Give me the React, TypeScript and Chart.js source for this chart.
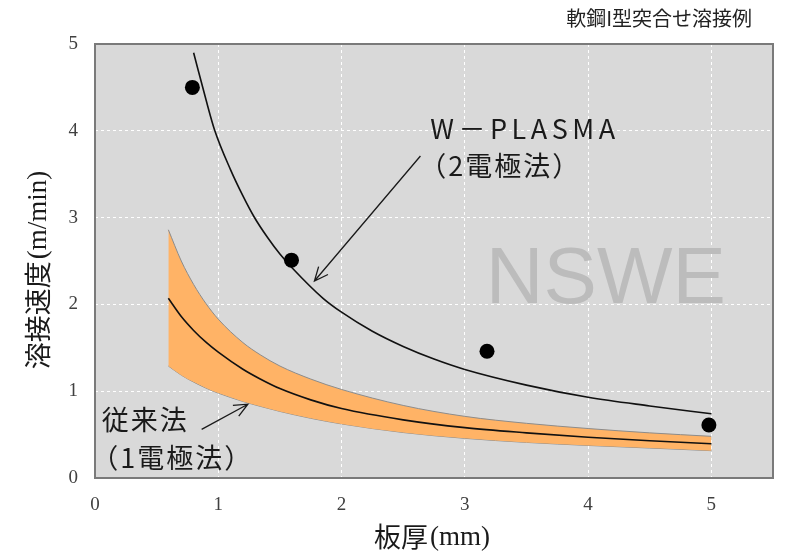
import React, { useEffect, useRef } from 'react';
import { Chart, registerables } from 'chart.js';

Chart.register(...registerables);

// ---- text ----
const titleText = '軟鋼I型突合せ溶接例';
const xTitleMain = '板厚';
const xTitleUnit = '(mm)';
const yTitleMain = '溶接速度';
const yTitleUnit = '(m/min)';
const watermark = 'NSWE';
const wLabel1 = 'W－PLASMA';
const wLabel2 = '（2電極法）';
const cLabel1 = '従来法';
const cLabel2 = '（1電極法）';

// ---- ticks ----
const xTicks = [0, 1, 2, 3, 4, 5];
const yTicks = [0, 1, 2, 3, 4, 5];

// ---- measured points (W-PLASMA) ----
const dotX = [0.79, 1.594, 3.18, 4.98];
const dotY = [4.5, 2.51, 1.46, 0.61];

// ---- W-PLASMA curve ----
const wX = [0.8, 0.9, 0.97, 1.1, 1.2, 1.29, 1.4, 1.5, 1.6, 1.85, 2.0, 2.25, 2.5, 2.75, 3.0, 3.5, 4.0, 4.5, 5.0];
const wY = [4.9, 4.36, 4.01, 3.55, 3.25, 3.01, 2.77, 2.58, 2.42, 2.07, 1.91, 1.69, 1.515, 1.37, 1.25, 1.07, 0.93, 0.83, 0.74];

// ---- conventional method band ----
const cX = [0.595, 0.7, 0.8, 0.9, 1.0, 1.2, 1.34, 1.5, 1.75, 2.0, 2.5, 3.0, 3.5, 4.0, 4.5, 5.0];
const cUpper = [2.86, 2.5, 2.23, 2.01, 1.83, 1.56, 1.42, 1.29, 1.14, 1.02, 0.836, 0.71, 0.63, 0.57, 0.52, 0.48];
const cMid = [2.07, 1.86, 1.7, 1.565, 1.45, 1.253, 1.141, 1.03, 0.9, 0.8, 0.67, 0.58, 0.52, 0.47, 0.43, 0.395];
const cLower = [1.29, 1.185, 1.105, 1.036, 0.978, 0.882, 0.826, 0.767, 0.688, 0.623, 0.524, 0.457, 0.41, 0.375, 0.345, 0.315];

const pts = (xs: number[], ys: number[]) => xs.map((x, i) => ({ x, y: ys[i] }));

const SANS = '"Noto Sans CJK JP", "Noto Sans", sans-serif';
const SERIF = '"Liberation Serif", "DejaVu Serif", serif';

function arrow(ctx: CanvasRenderingContext2D, x1: number, y1: number, x2: number, y2: number) {
  const ang = Math.atan2(y2 - y1, x2 - x1);
  const len = 15;
  const spread = 0.42;
  ctx.beginPath();
  ctx.moveTo(x1, y1);
  ctx.lineTo(x2, y2);
  ctx.moveTo(x2 - len * Math.cos(ang - spread), y2 - len * Math.sin(ang - spread));
  ctx.lineTo(x2, y2);
  ctx.lineTo(x2 - len * Math.cos(ang + spread), y2 - len * Math.sin(ang + spread));
  ctx.stroke();
}

const decorPlugin = {
  id: 'decor',
  beforeDraw(chart: any) {
    const { ctx, chartArea } = chart;
    ctx.save();
    ctx.fillStyle = '#ffffff';
    ctx.fillRect(0, 0, chart.width, chart.height);
    ctx.fillStyle = '#d9d9d9';
    ctx.fillRect(chartArea.left, chartArea.top, chartArea.right - chartArea.left, chartArea.bottom - chartArea.top);
    ctx.restore();
  },
  beforeDatasetsDraw(chart: any) {
    const { ctx } = chart;
    const xs = chart.scales.x;
    const ys = chart.scales.y;
    ctx.save();
    ctx.fillStyle = '#bcbcbc';
    ctx.font = '80px "Liberation Sans", Arial, sans-serif';
    ctx.textAlign = 'left';
    ctx.textBaseline = 'alphabetic';
    ctx.fillText(watermark, xs.getPixelForValue(3.17), ys.getPixelForValue(2.02));
    ctx.restore();
  },
  afterDraw(chart: any) {
    const { ctx, chartArea } = chart;
    const xs = chart.scales.x;
    const ys = chart.scales.y;
    const px = (v: number) => xs.getPixelForValue(v);
    const py = (v: number) => ys.getPixelForValue(v);
    ctx.save();
    // frame
    ctx.strokeStyle = '#7a7a7a';
    ctx.lineWidth = 2;
    ctx.strokeRect(chartArea.left, chartArea.top, chartArea.right - chartArea.left, chartArea.bottom - chartArea.top);

    ctx.fillStyle = '#1a1a1a';
    ctx.strokeStyle = '#1a1a1a';
    ctx.lineWidth = 1.3;
    ctx.textBaseline = 'middle';
    ctx.textAlign = 'left';

    // annotations
    ctx.font = `27px ${SANS}`;
    (ctx as any).letterSpacing = '4.5px';
    ctx.fillText(wLabel1, px(2.72), py(4.02));
    (ctx as any).letterSpacing = '2px';
    ctx.fillText(wLabel2, px(2.63), py(3.6));
    ctx.fillText(cLabel1, px(0.055), py(0.67));
    ctx.fillText(cLabel2, px(-0.03), py(0.23));
    (ctx as any).letterSpacing = '0px';
    arrow(ctx, px(2.64), py(3.71), px(1.78), py(2.27));
    arrow(ctx, px(0.865), py(0.56), px(1.24), py(0.85));

    // title
    ctx.font = `20px ${SANS}`;
    ctx.textAlign = 'right';
    ctx.fillStyle = '#222222';
    ctx.fillText(titleText, 752, 18);

    // x title
    ctx.fillStyle = '#1a1a1a';
    ctx.textAlign = 'left';
    ctx.font = `27px ${SANS}`;
    const w1 = ctx.measureText(xTitleMain).width;
    ctx.font = `27px ${SERIF}`;
    const w2 = ctx.measureText(xTitleUnit).width;
    const cx = (chartArea.left + chartArea.right) / 2 - 2;
    let sx = cx - (w1 + w2 + 2) / 2;
    ctx.font = `27px ${SANS}`;
    ctx.fillText(xTitleMain, sx, 537);
    ctx.font = `27px ${SERIF}`;
    ctx.fillText(xTitleUnit, sx + w1 + 2, 538);

    // y title
    ctx.translate(38, 270);
    ctx.rotate(-Math.PI / 2);
    ctx.font = `27px ${SANS}`;
    const h1 = ctx.measureText(yTitleMain).width;
    ctx.font = `27px ${SERIF}`;
    const h2 = ctx.measureText(yTitleUnit).width;
    sx = -(h1 + h2 + 2) / 2;
    ctx.font = `27px ${SANS}`;
    ctx.fillText(yTitleMain, sx, 0);
    ctx.font = `27px ${SERIF}`;
    ctx.fillText(yTitleUnit, sx + h1 + 2, 1);
    ctx.restore();
  },
};

export default function App() {
  const ref = useRef<HTMLCanvasElement>(null);
  useEffect(() => {
    if (!ref.current) return;
    const gridOpts = { color: '#ffffff', lineWidth: 1, drawTicks: false };
    const lineBase = { pointRadius: 0, cubicInterpolationMode: 'monotone' };
    const chart = new Chart(ref.current, {
      type: 'line',
      data: {
        datasets: [
          {
            label: 'dots',
            data: pts(dotX, dotY),
            showLine: false,
            pointRadius: 7.5,
            pointBackgroundColor: '#000000',
            pointBorderWidth: 0,
            borderColor: '#000000',
          },
          { ...lineBase, label: 'W-PLASMA', data: pts(wX, wY), borderColor: '#111111', borderWidth: 1.6, fill: false },
          { ...lineBase, label: 'mid', data: pts(cX, cMid), borderColor: '#111111', borderWidth: 1.6, fill: false },
          {
            ...lineBase,
            label: 'upper',
            data: pts(cX, cUpper),
            borderColor: '#8c8c8c',
            borderWidth: 1,
            backgroundColor: '#ffb366',
            fill: '+1',
          },
          { ...lineBase, label: 'lower', data: pts(cX, cLower), borderColor: '#8c8c8c', borderWidth: 1, fill: false },
        ] as any,
      },
      options: {
        responsive: false,
        animation: false,
        devicePixelRatio: 1,
        layout: { padding: { top: 44, right: 27, left: 0, bottom: 0 } },
        plugins: { legend: { display: false }, tooltip: { enabled: false } },
        scales: {
          x: {
            type: 'linear',
            min: 0,
            max: 5.5,
            grid: gridOpts,
            border: { display: false, dash: [3, 3] },
            afterBuildTicks: (s: any) => { s.ticks = xTicks.map((v) => ({ value: v })); },
            afterFit: (s: any) => { s.height = 81; },
            ticks: {
              padding: 16,
              color: '#404040',
              font: { family: SERIF, size: 19 },
              maxRotation: 0,
            },
          },
          y: {
            type: 'linear',
            min: 0,
            max: 5,
            grid: gridOpts,
            border: { display: false, dash: [3, 3] },
            afterBuildTicks: (s: any) => { s.ticks = yTicks.map((v) => ({ value: v })); },
            afterFit: (s: any) => { s.width = 95; },
            ticks: {
              padding: 17,
              color: '#404040',
              font: { family: SERIF, size: 19 },
            },
          },
        },
      } as any,
      plugins: [decorPlugin],
    });
    return () => chart.destroy();
  }, []);
  return (
    <div style={{ position: 'absolute', left: 0, top: 0, width: 800, height: 559, background: '#fff' }}>
      <canvas ref={ref} width={800} height={559} style={{ display: 'block', width: 800, height: 559 }} />
    </div>
  );
}
